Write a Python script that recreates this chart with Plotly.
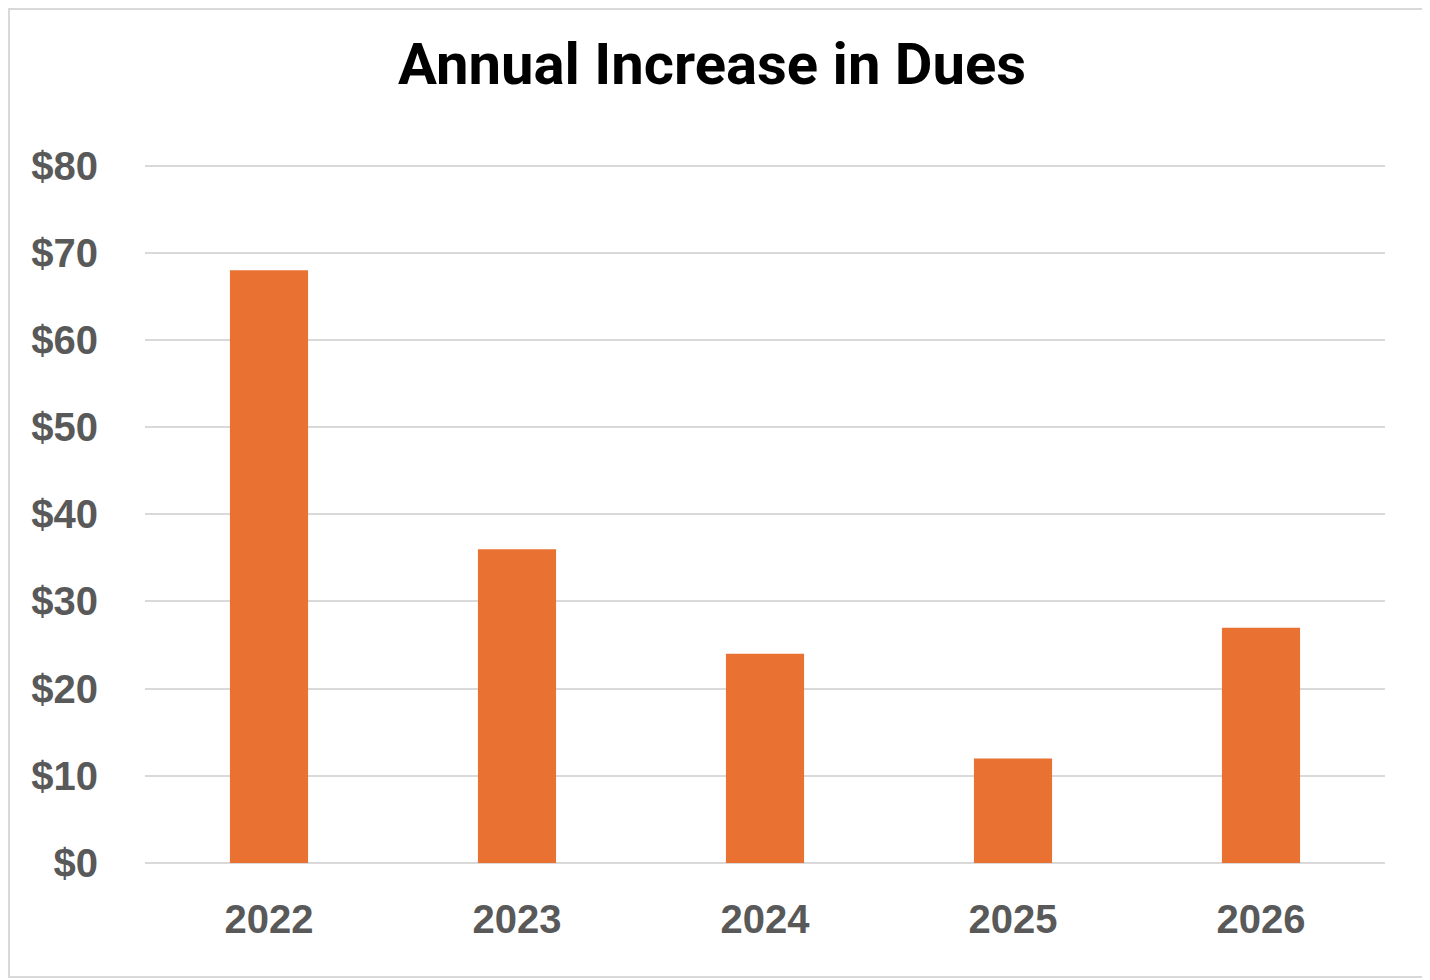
import plotly.graph_objects as go

years = ["2022", "2023", "2024", "2025", "2026"]
increase = [68, 36, 24, 12, 27]
y_ticks = [0, 10, 20, 30, 40, 50, 60, 70, 80]
y_tick_text = ["$0", "$10", "$20", "$30", "$40", "$50", "$60", "$70", "$80"]

# page is drawn with an 8px body offset
OFF = 8
W, H = 1430, 980
L, R, T, B = 145 - OFF, W - (1385 - OFF), 163 - OFF, H - (863 - OFF)
pw, ph = W - L - R, H - T - B

fig = go.Figure()
fig.add_trace(go.Bar(x=years, y=increase, marker=dict(color="#E97132", line=dict(width=0))))

fig.update_layout(
    width=W, height=H,
    margin=dict(l=L, r=R, t=T, b=B),
    paper_bgcolor="white", plot_bgcolor="white",
    bargap=0.685,
    showlegend=False,
    title=dict(text="<b>Annual Increase in Dues</b>", x=(712 - OFF) / W, xref="container", xanchor="center",
               y=1 - (64 - OFF) / H, yref="container", yanchor="middle",
               font=dict(family="Roboto, Liberation Sans, sans-serif", size=58, color="#000000")),
    xaxis=dict(showgrid=False, zeroline=False, showline=False, ticks="",
               tickfont=dict(family="Liberation Sans, Arial, sans-serif", size=40, color="#595959", weight="bold"),
               ticklabelstandoff=29),
    yaxis=dict(range=[0, 80.3], tickvals=y_ticks, ticktext=y_tick_text,
               showgrid=True, gridcolor="#d9d9d9", gridwidth=2,
               zeroline=True, zerolinecolor="#d9d9d9", zerolinewidth=2,
               showline=False, ticks="",
               tickfont=dict(family="Liberation Sans, Arial, sans-serif", size=40, color="#595959", weight="bold"),
               ticklabelstandoff=46),
    shapes=[dict(type="rect", xref="paper", yref="paper",
                 x0=(1 - L) / pw, x1=(1425 - OFF - L) / pw,
                 y0=(H - B - (977 - OFF)) / ph, y1=(H - B - 1) / ph,
                 line=dict(color="#d9d9d9", width=2), fillcolor="rgba(0,0,0,0)", layer="below")],
)

fig.write_html("out.html")
